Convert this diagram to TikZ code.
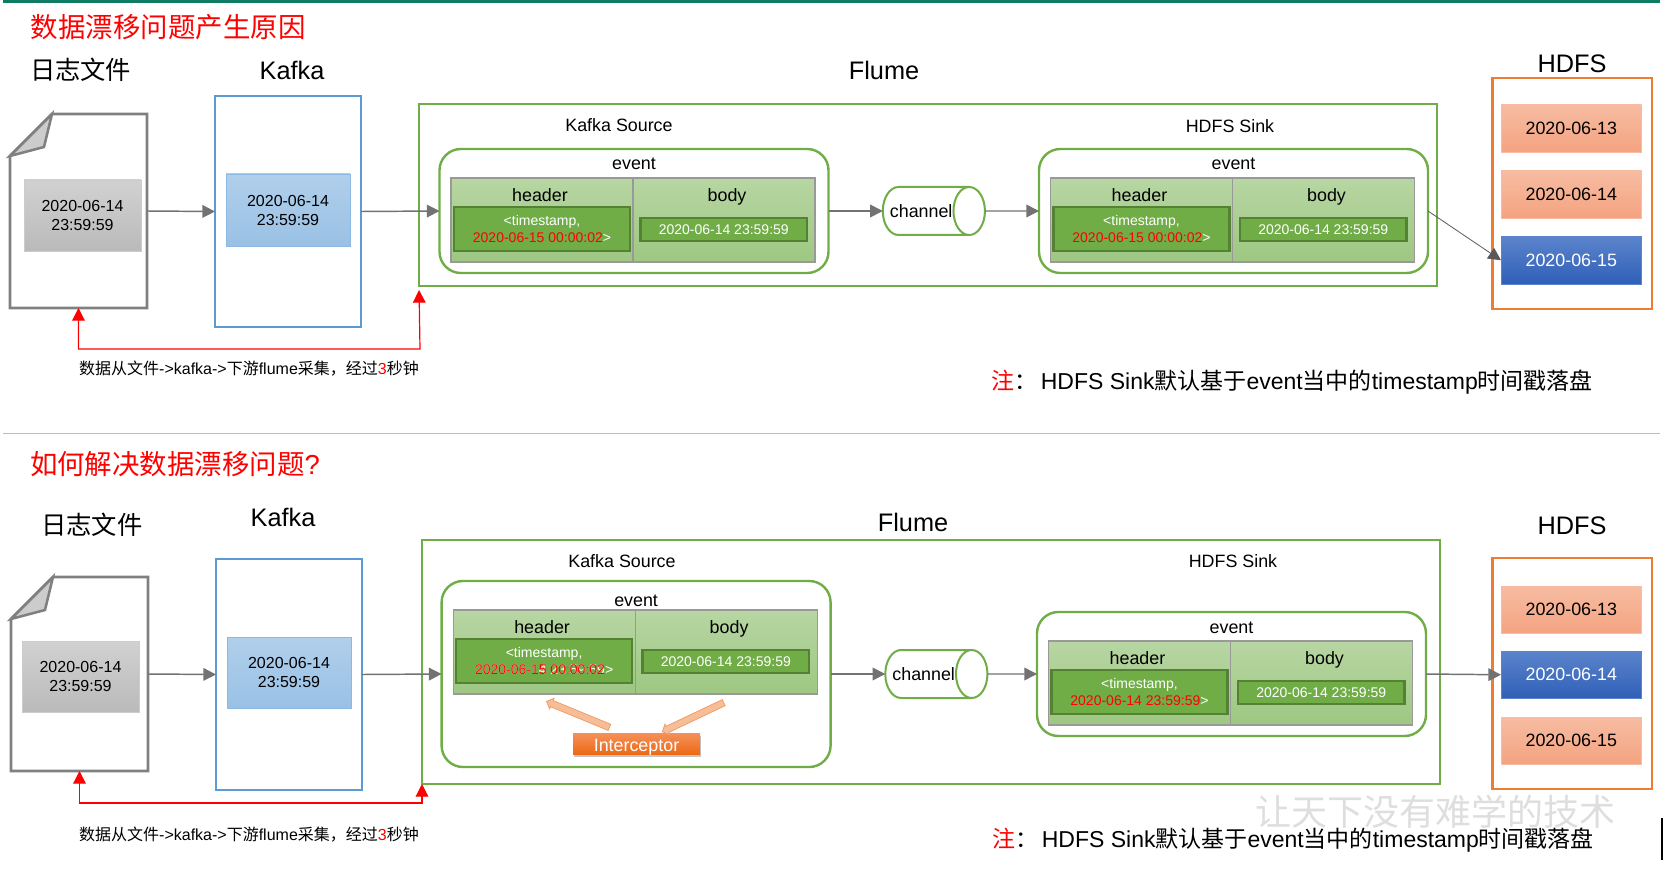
\documentclass[tikz,border=0pt]{standalone}
\usepackage{fontspec}
\setmainfont{Liberation Sans}
\newfontfamily\cjkfont{Noto Sans CJK SC}
\usepackage{tikz}
\usetikzlibrary{positioning, arrows.meta, shapes.geometric, shapes.arrows, shadows}
\definecolor{bandgreen}{HTML}{0F7B63}
\definecolor{lineblue}{HTML}{9DC3E6}
\definecolor{kafkablue}{HTML}{5B9BD5}
\definecolor{flumegreen}{HTML}{70AD47}
\definecolor{darkgreen}{HTML}{548235}
\definecolor{hdfsorange}{HTML}{ED7D31}
\definecolor{arrowgray}{HTML}{595959}
\definecolor{royaltop}{HTML}{5B84CC}
\definecolor{royalblue}{HTML}{2F5FB7}
\definecolor{peachtop}{HTML}{F7BCA2}
\definecolor{peachend}{HTML}{F4A380}
\definecolor{intertop}{HTML}{F5915A}
\definecolor{interend}{HTML}{ED6A15}
\newcommand{\zh}[1]{{\cjkfont #1}}
\newcommand{\delaytext}{\zh{数据从文件}->kafka->\zh{下游}flume\zh{采集^^^^ff0c经过}{\color{red}3}\zh{秒钟}}
\newcommand{\notetext}{{\color{red}\zh{注}}\zh{^^^^ff1a}\,HDFS Sink\zh{默认基于}event\zh{当中的}timestamp\zh{时间戳落盘}}
\tikzset{
    size/.style 2 args={minimum width=#1*0.75pt,minimum height=#2*0.75pt},
    plain/.style={inner sep=0pt,outer sep=0pt},
    txtA/.style={plain,font=\fontsize{10.5}{12.75}\selectfont},
    txtB/.style={plain,font=\fontsize{12}{14.25}\selectfont},
    txtC/.style={plain,font=\fontsize{13.4}{16}\selectfont},
    txtD/.style={plain,font=\fontsize{19}{22}\selectfont},
    txtE/.style={plain,font=\fontsize{20.6}{24}\selectfont},
    txtF/.style={plain,font=\fontsize{17.25}{21}\selectfont},
    graybox/.style={plain,draw=black!20,top color=black!18,bottom color=black!27,align=center,txtB},
    bluebox/.style={plain,draw=kafkablue!70,top color=kafkablue!48,bottom color=kafkablue!62,align=center,txtB},
    kafkaframe/.style={plain,draw=kafkablue,line width=1.8pt,size={146}{231}},
    flumeframe/.style={plain,draw=flumegreen,line width=1.8pt},
    eventframe/.style={plain,draw=flumegreen,line width=1.8pt,rounded corners=16pt},
    hdfsframe/.style={plain,draw=hdfsorange,line width=1.8pt,size={159.5}{231}},
    cellbox/.style={plain,draw=black!40,line width=0.9pt,top color=flumegreen!50,bottom color=flumegreen!68,size={182}{84}},
    innerbox/.style={plain,draw=darkgreen,line width=1.8pt,fill=flumegreen,text=white,align=center,txtA},
    peachbox/.style={plain,draw=peachtop,top color=peachtop,bottom color=peachend,size={140.5}{47.5},txtC},
    royalbox/.style={plain,draw=royaltop,top color=royaltop,bottom color=royalblue,size={140.5}{47.5},text=white,txtC},
    channelbox/.style={txtC,cylinder,draw=flumegreen,line width=1.5pt,fill=white,shape aspect=2.4,size={48}{94}},
    flowarrow/.style={draw=arrowgray!85,line width=1.1pt,-{Triangle[length=9.5pt,width=9.5pt]}},
    thinarrow/.style={draw=arrowgray,line width=0.6pt,-{Triangle[length=9.5pt,width=9.5pt]}},
    redarrow/.style={draw=red,line width=0.9pt,{Triangle[length=9.5pt,width=9.5pt]}-{Triangle[length=9.5pt,width=9.5pt]}},
    filepage/.style={draw=black!50,line width=1.9pt,fill=white,line join=miter},
    filefold/.style={draw=black!50,line width=1.9pt,fill=black!20,line join=miter},
    blockarrow/.style={plain,single arrow,draw=hdfsorange!75,fill=hdfsorange!50,line width=0.6pt,minimum height=51pt,inner ysep=2.2pt,single arrow head extend=1.8pt},
    interbox/.style={plain,top color=intertop,bottom color=interend,text=white,drop shadow={shadow xshift=0.6pt,shadow yshift=-2.2pt,opacity=0.45},size={127}{21},txtC,text height=12pt,text depth=0pt},
}
\newcommand{\eventbox}[6][21]{%
    \begin{scope}[shift={(#3,#4)}]
        \node[eventframe,size={389}{#5},anchor=north west] (#2) at (0,0) {};
        \node[txtC,anchor=base] (#2-title) at (194.5,#1) {event};
        \node[cellbox,anchor=north west] (#2-head) at (11.5,29) {};
        \node[cellbox,right=0pt of #2-head] (#2-body) {};
        \node[txtC,anchor=base] (#2-headtext) at (100.5,52.5) {header};
        \node[txtC,anchor=base] (#2-bodytext) at (287.5,52.5) {body};
        \node[innerbox,size={176}{44},anchor=north west] (#2-stamp) at (14.5,58)
            {<timestamp,\\#6>};
        \node[innerbox,size={166.5}{23},anchor=north west] (#2-time) at (201,69)
            {2020-06-14 23:59:59};
    \end{scope}
}
\begin{document}
\begin{tikzpicture}[x=0.75pt,y=-0.75pt]
    \useasboundingbox (0,0) rectangle (1671,888);
    \fill[bandgreen] (3,0) rectangle (1660,3.4);
    \draw[lineblue,line width=0.9pt] (3,433.5) -- (1660,433.5);

    % upper half
    \node[txtE,text=red,anchor=west] (title1) at (31,27.5) {\zh{数据漂移问题产生原因}};
    \node[txtD,anchor=west] (logname1) at (30,70) {\zh{日志文件}};
    \node[txtD] (kafkaname1) at (292,70.5) {Kafka};
    \node[txtD] (flumename1) at (884,70) {Flume};
    \node[txtD] (hdfsname1) at (1572,63.5) {HDFS};

    \node[plain,size={137}{194},anchor=north west] (file1) at (10,114) {};
    \draw[filepage] (52,114) -- (147,114) -- (147,308) -- (10,308) -- (10,156) -- cycle;
    \draw[filefold] (52,114) -- (44,147) -- (10,156) -- cycle;
    \node[graybox,size={117}{71},anchor=north west] (log1) at (24,180) {2020-06-14\\23:59:59};

    \node[kafkaframe,anchor=north west] (kafka1) at (215,96) {};
    \node[bluebox,size={124}{72},anchor=north west] (msg1) at (226,174) {2020-06-14\\23:59:59};

    \node[flumeframe,size={1018}{182},anchor=north west] (flume1) at (419,104) {};
    \node[txtC] (sourcename1) at (619,125) {Kafka Source};
    \node[txtC] (sinkname1) at (1230,126) {HDFS Sink};
    \eventbox{source1}{439.5}{149}{124}{{\color{red}2020-06-15 00:00:02}}
    \node[channelbox] (channel1) at (925.5,211) {\hspace{-6.5pt}channel\hspace{6.5pt}};
    \eventbox{sink1}{1039}{149}{124}{{\color{red}2020-06-15 00:00:02}}

    \node[hdfsframe,anchor=north west] (hdfs1) at (1492.6,78) {};
    \node[peachbox,anchor=north west] (dayA1) at (1501,105) {2020-06-13};
    \node[peachbox,anchor=north west] (dayB1) at (1501,171) {2020-06-14};
    \node[royalbox,anchor=north west] (dayC1) at (1501,236.5) {2020-06-15};

    \draw[flowarrow] (file1.east) -- (kafka1.west);
    \draw[flowarrow] (kafka1.east) -- (source1.west);
    \draw[flowarrow] (source1.east) -- (channel1.west);
    \draw[flowarrow] (channel1.east) -- (sink1.west);
    \draw[thinarrow] (sink1.east) -- (dayC1.west);

    \coordinate (bend1) at (420,349);
    \draw[redarrow,shorten >=3pt] (file1.south) |- (bend1) -- (flume1.south west);
    \node[txtB] (delay1) at (249,368.5) {\delaytext};
    \node[txtF,anchor=west] (note1) at (991,382) {\notetext};

    % lower half
    \node[txtE,text=red,anchor=west] (title2) at (30,464) {\zh{如何解决数据漂移问题}?};
    \node[txtD,anchor=west] (logname2) at (41,525) {\zh{日志文件}};
    \node[txtD] (kafkaname2) at (283,517) {Kafka};
    \node[txtD] (flumename2) at (913,522) {Flume};
    \node[txtD] (hdfsname2) at (1572,525.5) {HDFS};

    \node[plain,size={137}{194},anchor=north west] (file2) at (11,577) {};
    \draw[filepage] (53,577) -- (148,577) -- (148,771) -- (11,771) -- (11,619) -- cycle;
    \draw[filefold] (53,577) -- (45,610) -- (11,619) -- cycle;
    \node[graybox,size={117}{71},anchor=north west] (log2) at (22,641) {2020-06-14\\23:59:59};

    \node[kafkaframe,anchor=north west] (kafka2) at (216,559) {};
    \node[bluebox,size={124}{71},anchor=north west] (msg2) at (227,637) {2020-06-14\\23:59:59};

    \node[flumeframe,size={1018}{244},anchor=north west] (flume2) at (422,540) {};
    \node[txtC] (sourcename2) at (622,561) {Kafka Source};
    \node[txtC] (sinkname2) at (1233,561) {HDFS Sink};
    \eventbox[25]{source2}{441.6}{581}{186}{\rlap{2020-06-14 23:59:59}{\color{red}2020-06-15 00:00:02}}
    \node[channelbox] (channel2) at (928,674) {\hspace{-6.5pt}channel\hspace{6.5pt}};
    \eventbox{sink2}{1037}{612}{124}{{\color{red}2020-06-14 23:59:59}}

    \node[interbox,anchor=north west] (inter) at (573,733) {Interceptor};
    \node[blockarrow,rotate=157.6] (interleft) at (579.5,715) {};
    \node[blockarrow,rotate=205.4] (interright) at (694.5,716.5) {};

    \node[hdfsframe,anchor=north west] (hdfs2) at (1492.6,558) {};
    \node[peachbox,anchor=north west] (dayA2) at (1501,586) {2020-06-13};
    \node[royalbox,anchor=north west] (dayB2) at (1501,651) {2020-06-14};
    \node[peachbox,anchor=north west] (dayC2) at (1501,717) {2020-06-15};

    \draw[flowarrow] (file2.east) -- (kafka2.west);
    \draw[flowarrow] (kafka2.east) -- (source2.west);
    \draw[flowarrow] (source2.east) -- (channel2.west);
    \draw[flowarrow] (channel2.east) -- (sink2.west);
    \draw[flowarrow] (sink2.east) -- (dayB2.west);

    \coordinate (bend2) at (422,803);
    \draw[redarrow] (file2.south) |- (bend2) -- (flume2.south west);
    \node[txtB] (delay2) at (249,835) {\delaytext};

    \node[plain,text=black!13,font=\fontsize{27}{30}\selectfont,anchor=west] (mark) at (1255,812) {\zh{让天下没有难学的技术}};
    \node[txtF,anchor=west] (note2) at (992,840) {\notetext};
    \draw[black,line width=1.1pt] (1662,818) -- (1662,860);
\end{tikzpicture}
\end{document}
